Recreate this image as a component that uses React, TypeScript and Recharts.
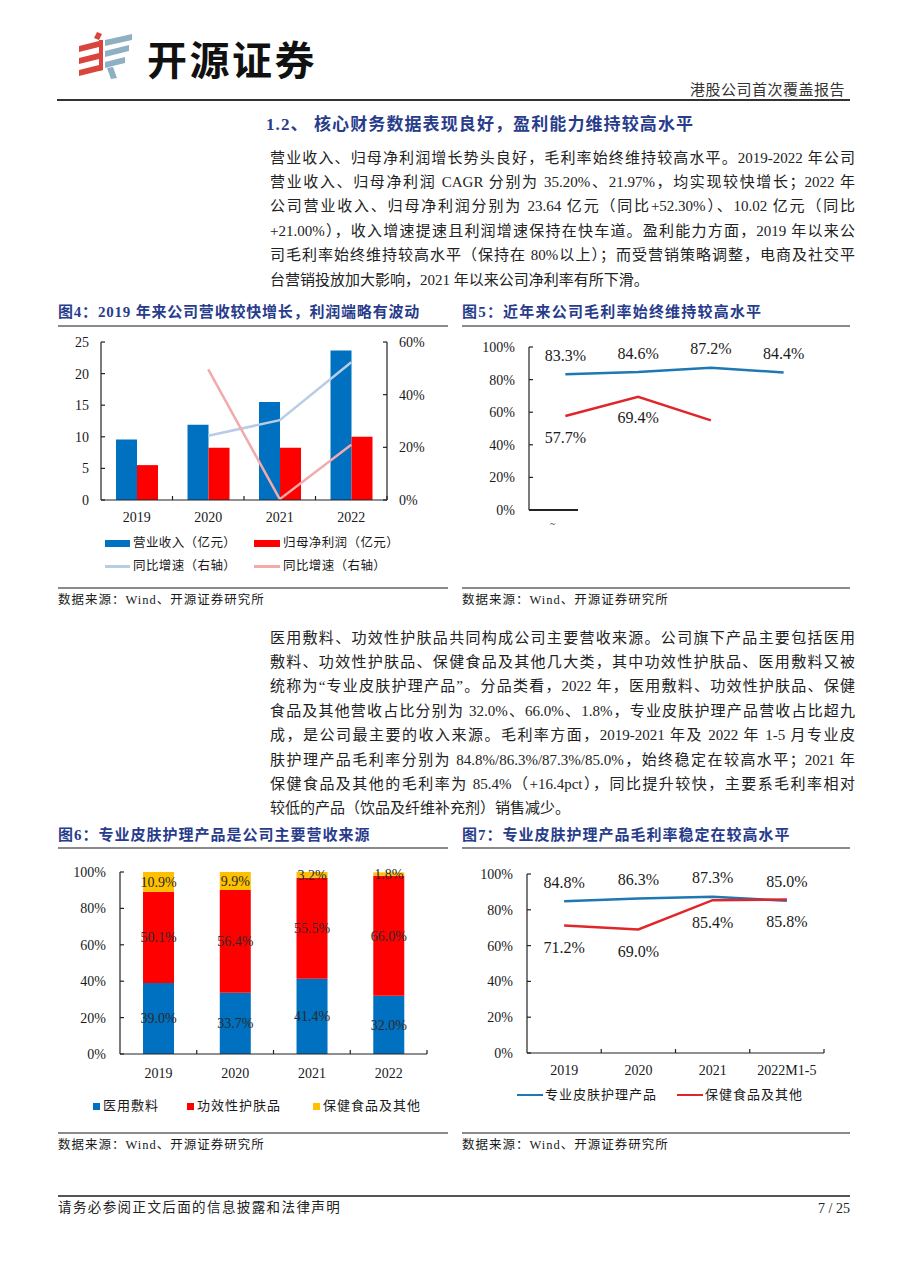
import React from 'react'
import { ComposedChart, BarChart, LineChart, Bar, Line, XAxis, YAxis, LabelList } from 'recharts'

const NAVY = '#283c8c'
const INK = '#1a1a1a'
const AXIS = '#222'
const RULE = '#8a8a8a'
const BAR_BLUE = '#0070c0'
const BAR_RED = '#ff0000'
const BAR_YELLOW = '#ffc000'
const LINE_BLUE = '#1f77b4'
const LINE_RED = '#e0262b'
const PALE_BLUE = '#b8cce4'
const PALE_RED = '#f2aaaa'
const SERIF = '"Liberation Serif", "Noto Sans CJK SC", serif'

// 图4
const YEARS = ['2019', '2020', '2021', '2022']
const REVENUE = [9.57, 11.91, 15.52, 23.64]
const NET_PROFIT = [5.52, 8.26, 8.28, 10.02]
const REVENUE_YOY = [null, 24.4, 30.3, 52.3]
const PROFIT_YOY = [null, 49.6, 0.3, 21.0]
const REV_TICKS = [0, 5, 10, 15, 20, 25]
const YOY_TICKS = [0, 20, 40, 60]

// 图5
const GROSS_MARGIN = [83.3, 84.6, 87.2, 84.4]
const NET_MARGIN = [57.7, 69.4, 55.0, null]
const NET_MARGIN_SHOWN = [true, true, false, false]
const PCT_TICKS = [0, 20, 40, 60, 80, 100]

// 图6
const DRESSING = [39.0, 33.7, 41.4, 32.0]
const SKINCARE = [50.1, 56.4, 55.5, 66.0]
const HEALTH_FOOD = [10.9, 9.9, 3.2, 1.8]

// 图7
const GM_CATS = ['2019', '2020', '2021', '2022M1-5']
const PRO_SKIN_GM = [84.8, 86.3, 87.3, 85.0]
const HEALTH_GM = [71.2, 69.0, 85.4, 85.8]

const pct = (v: number) => `${v.toFixed(1)}%`

const fig4Data = YEARS.map((year, i) => ({
    year, revenue: REVENUE[i], profit: NET_PROFIT[i], revYoy: REVENUE_YOY[i], profitYoy: PROFIT_YOY[i],
}))
const fig5Data = YEARS.map((year, i) => ({
    year,
    gross: GROSS_MARGIN[i],
    grossLabel: pct(GROSS_MARGIN[i]),
    net: NET_MARGIN[i],
    netLabel: NET_MARGIN_SHOWN[i] && NET_MARGIN[i] != null ? pct(NET_MARGIN[i] as number) : '',
}))
const fig6Data = YEARS.map((year, i) => ({
    year, dressing: DRESSING[i], skincare: SKINCARE[i], health: HEALTH_FOOD[i],
}))
const fig7Data = GM_CATS.map((cat, i) => ({
    cat, pro: PRO_SKIN_GM[i], health: HEALTH_GM[i], proLabel: pct(PRO_SKIN_GM[i]), healthLabel: pct(HEALTH_GM[i]),
}))

const LeftTick = (props: any) => {
    const { x, y, payload, gap, fmt } = props
    const ax = x + gap
    return (
        <g>
            <line x1={ax} x2={ax + 4} y1={y} y2={y} stroke={AXIS} strokeWidth={1.2} />
            <text x={x} y={y} dy="0.35em" textAnchor="end" fontSize={14} fill={INK} fontFamily={SERIF}>
                {fmt ? fmt(payload.value) : payload.value}
            </text>
        </g>
    )
}

const RightTick = (props: any) => {
    const { x, y, payload, gap, fmt } = props
    const ax = x - gap
    return (
        <g>
            <line x1={ax - 4} x2={ax} y1={y} y2={y} stroke={AXIS} strokeWidth={1.2} />
            <text x={x} y={y} dy="0.35em" textAnchor="start" fontSize={14} fill={INK} fontFamily={SERIF}>
                {fmt ? fmt(payload.value) : payload.value}
            </text>
        </g>
    )
}

const BottomTick = (props: any) => {
    const { x, y, payload, gap, band } = props
    const ay = y - gap
    return (
        <g>
            <line x1={x + band / 2} x2={x + band / 2} y1={ay} y2={ay - 4} stroke={AXIS} strokeWidth={1.2} />
            <text x={x} y={y} dy="0.71em" textAnchor="middle" fontSize={14} fill={INK} fontFamily={SERIF}>
                {payload.value}
            </text>
        </g>
    )
}

const pointLabel = (dy: number, size = 16) => (p: any) => {
    if (!p.value) return null
    return (
        <text x={p.x} y={p.y + dy} dy="0.35em" textAnchor="middle" fontSize={size} fill={INK} fontFamily={SERIF}>
            {p.value}
        </text>
    )
}

const barLabel = (p: any) => {
    const cx = p.x + p.width / 2
    const cy = p.y + p.height / 2
    return (
        <text x={cx} y={cy} dy="0.35em" textAnchor="middle" fontSize={14} fill="#2a2a2a" fontFamily={SERIF}>
            {pct(p.value)}
        </text>
    )
}

const Txt = ({ x, y, size = 15, color = INK, weight = 400, spacing = 0, right = false, children }: any) => {
    const lh = Math.round(size * 1.5)
    const pos: any = right ? { right: 905 - x } : { left: x }
    return (
        <div style={{
            position: 'absolute', ...pos, top: y - lh / 2, height: lh, lineHeight: `${lh}px`,
            fontSize: size, color, fontWeight: weight, letterSpacing: spacing, whiteSpace: 'nowrap',
        }}>
            {children}
        </div>
    )
}

const Rule = ({ x, y, w, h = 1.5, color = RULE }: any) => (
    <div style={{ position: 'absolute', left: x, top: y - h / 2, width: w, height: h, background: color }} />
)

const Paragraph = ({ lines, top }: { lines: string[], top: number }) => (
    <>
        {lines.map((line, i) => (
            <div key={i} style={{
                position: 'absolute', left: 270, top: top + i * 24.4 - 12, width: 585, height: 24,
                lineHeight: '24px', fontSize: 15, color: '#222', whiteSpace: 'nowrap',
                textAlign: 'justify', textAlignLast: i === lines.length - 1 ? 'left' : 'justify',
            }}>
                {line}
            </div>
        ))}
    </>
)

const PARA_1 = [
    '营业收入、归母净利润增长势头良好，毛利率始终维持较高水平。2019-2022 年公司',
    '营业收入、归母净利润 CAGR 分别为 35.20%、21.97%，均实现较快增长；2022 年',
    '公司营业收入、归母净利润分别为 23.64 亿元（同比+52.30%）、10.02 亿元（同比',
    '+21.00%），收入增速提速且利润增速保持在快车道。盈利能力方面，2019 年以来公',
    '司毛利率始终维持较高水平（保持在 80%以上）；而受营销策略调整，电商及社交平',
    '台营销投放加大影响，2021 年以来公司净利率有所下滑。',
]

const PARA_2 = [
    '医用敷料、功效性护肤品共同构成公司主要营收来源。公司旗下产品主要包括医用',
    '敷料、功效性护肤品、保健食品及其他几大类，其中功效性护肤品、医用敷料又被',
    '统称为“专业皮肤护理产品”。分品类看，2022 年，医用敷料、功效性护肤品、保健',
    '食品及其他营收占比分别为 32.0%、66.0%、1.8%，专业皮肤护理产品营收占比超九',
    '成，是公司最主要的收入来源。毛利率方面，2019-2021 年及 2022 年 1-5 月专业皮',
    '肤护理产品毛利率分别为 84.8%/86.3%/87.3%/85.0%，始终稳定在较高水平；2021 年',
    '保健食品及其他的毛利率为 85.4%（+16.4pct），同比提升较快，主要系毛利率相对',
    '较低的产品（饮品及纤维补充剂）销售减少。',
]

const Logo = () => (
    <svg width={56} height={48} style={{ position: 'absolute', left: 77, top: 32 }}>
        <polygon points="20,0 25,2 22,8 17,6" fill="#d9453c" />
        <polygon points="2,14 26,8 26,14 2,20" fill="#d9453c" />
        <polygon points="2,26 26,20 26,26 2,32" fill="#d9453c" />
        <polygon points="2,38 26,32 26,38 2,44" fill="#d9453c" />
        <polygon points="22,8 26,8 26,38 22,39" fill="#d9453c" />
        <polygon points="28,8 55,2 55,8 28,14" fill="#8fb0c2" />
        <polygon points="28,19 52,13 52,19 28,25" fill="#8fb0c2" />
        <polygon points="28,30 48,25 48,31 28,36" fill="#8fb0c2" />
        <polygon points="30,36 36,35 40,46 34,47" fill="#8fb0c2" />
    </svg>
)

const FIG4_PLOT_W = 286
const FIG6_PLOT_W = 307
const FIG7_PLOT_W = 297

const App = () => {
    return (
        <div style={{
            position: 'absolute', left: 0, top: 0, width: 905, height: 1280, background: '#fff',
            overflow: 'hidden', fontFamily: SERIF,
        }}>
            {/* header */}
            <Logo />
            <Txt x={147} y={58} size={40} weight={700} spacing={2.5} color="#111">
                <span style={{ fontFamily: '"Noto Sans CJK SC", sans-serif' }}>开源证券</span>
            </Txt>
            <Txt x={845} y={90} size={15} spacing={0.5} right color="#333">港股公司首次覆盖报告</Txt>
            <Rule x={57} y={100} w={793} h={1.5} color="#333" />

            <Txt x={266} y={125} size={17} weight={700} spacing={1.1} color={NAVY}>
                1.2、 核心财务数据表现良好，盈利能力维持较高水平
            </Txt>
            <Paragraph lines={PARA_1} top={157.5} />

            {/* 图4 */}
            <Txt x={58} y={312} size={15} weight={700} spacing={0.8} color={NAVY}>
                图4：2019 年来公司营收较快增长，利润端略有波动
            </Txt>
            <Rule x={58} y={326} w={390} />
            <div style={{ position: 'absolute', left: 58, top: 330 }}>
                <ComposedChart width={390} height={200} data={fig4Data} margin={{ top: 12, right: 0, bottom: 0, left: 0 }}
                    barCategoryGap="21%" barGap={0}>
                    <XAxis dataKey="year" height={30} interval={0} axisLine={{ stroke: AXIS, strokeWidth: 1.2 }}
                        tickLine={false} tickSize={0} tickMargin={12}
                        tick={(p: any) => <BottomTick {...p} gap={12} band={FIG4_PLOT_W / YEARS.length} />} />
                    <YAxis yAxisId="l" width={43} domain={[0, 25]} ticks={REV_TICKS} interval={0}
                        axisLine={{ stroke: AXIS, strokeWidth: 1.2 }} tickLine={false} tickSize={0} tickMargin={12}
                        tick={(p: any) => <LeftTick {...p} gap={12} />} />
                    <YAxis yAxisId="r" orientation="right" width={61} domain={[0, 60]} ticks={YOY_TICKS} interval={0}
                        axisLine={{ stroke: AXIS, strokeWidth: 1.2 }} tickLine={false} tickSize={0} tickMargin={12}
                        tick={(p: any) => <RightTick {...p} gap={12} fmt={(v: number) => `${v}%`} />} />
                    <Bar yAxisId="l" dataKey="revenue" fill={BAR_BLUE} isAnimationActive={false} />
                    <Bar yAxisId="l" dataKey="profit" fill={BAR_RED} isAnimationActive={false} />
                    <Line yAxisId="r" dataKey="revYoy" type="linear" stroke={PALE_BLUE} strokeWidth={2.5} dot={false}
                        activeDot={false} isAnimationActive={false} />
                    <Line yAxisId="r" dataKey="profitYoy" type="linear" stroke={PALE_RED} strokeWidth={2.5} dot={false}
                        activeDot={false} isAnimationActive={false} />
                </ComposedChart>
            </div>
            <div style={{ position: 'absolute', left: 105, top: 540, width: 25, height: 7, background: BAR_BLUE }} />
            <Txt x={133} y={543} size={12.5} spacing={0.4}>营业收入（亿元）</Txt>
            <div style={{ position: 'absolute', left: 254, top: 540, width: 26, height: 7, background: BAR_RED }} />
            <Txt x={283} y={543} size={12.5} spacing={0.4}>归母净利润（亿元）</Txt>
            <div style={{ position: 'absolute', left: 105, top: 565, width: 25, height: 2.5, background: PALE_BLUE }} />
            <Txt x={133} y={566} size={12.5} spacing={0.4}>同比增速（右轴）</Txt>
            <div style={{ position: 'absolute', left: 254, top: 565, width: 26, height: 2.5, background: PALE_RED }} />
            <Txt x={283} y={566} size={12.5} spacing={0.4}>同比增速（右轴）</Txt>
            <Rule x={58} y={588} w={390} />
            <Txt x={58} y={600} size={12.5} spacing={1}>数据来源：Wind、开源证券研究所</Txt>

            {/* 图5 */}
            <Txt x={462} y={312} size={15} weight={700} spacing={1.2} color={NAVY}>
                图5：近年来公司毛利率始终维持较高水平
            </Txt>
            <Rule x={462} y={326} w={388} />
            <div style={{ position: 'absolute', left: 462, top: 335 }}>
                <LineChart width={388} height={190} data={fig5Data} margin={{ top: 12, right: 30, bottom: 15, left: 0 }}>
                    <XAxis dataKey="year" hide scale="band" />
                    <YAxis width={67} domain={[0, 100]} ticks={PCT_TICKS} interval={0}
                        axisLine={{ stroke: AXIS, strokeWidth: 1.2 }} tickLine={false} tickSize={0} tickMargin={14}
                        tick={(p: any) => <LeftTick {...p} gap={14} fmt={(v: number) => `${v}%`} />} />
                    <Line dataKey="gross" type="linear" stroke={LINE_BLUE} strokeWidth={2.5} dot={false}
                        activeDot={false} isAnimationActive={false}>
                        <LabelList dataKey="grossLabel" content={pointLabel(-19)} />
                    </Line>
                    <Line dataKey="net" type="linear" stroke={LINE_RED} strokeWidth={2.5} dot={false}
                        activeDot={false} isAnimationActive={false}>
                        <LabelList dataKey="netLabel" content={pointLabel(21)} />
                    </Line>
                </LineChart>
            </div>
            <div style={{ position: 'absolute', left: 529, top: 509.4, width: 49, height: 1.3, background: AXIS }} />
            <Txt x={550} y={523} size={10}>~</Txt>
            <Rule x={462} y={588} w={388} />
            <Txt x={462} y={600} size={12.5} spacing={1}>数据来源：Wind、开源证券研究所</Txt>

            <Paragraph lines={PARA_2} top={637.5} />

            {/* 图6 */}
            <Txt x={58} y={835} size={15} weight={700} spacing={1} color={NAVY}>
                图6：专业皮肤护理产品是公司主要营收来源
            </Txt>
            <Rule x={58} y={848} w={390} />
            <div style={{ position: 'absolute', left: 58, top: 860 }}>
                <BarChart width={390} height={224} data={fig6Data} margin={{ top: 12, right: 21, bottom: 0, left: 0 }}
                    barCategoryGap="30%">
                    <XAxis dataKey="year" height={30} interval={0} axisLine={{ stroke: AXIS, strokeWidth: 1.2 }}
                        tickLine={false} tickSize={0} tickMargin={14}
                        tick={(p: any) => <BottomTick {...p} gap={14} band={FIG6_PLOT_W / YEARS.length} />} />
                    <YAxis width={62} domain={[0, 100]} ticks={PCT_TICKS} interval={0} allowDataOverflow
                        axisLine={{ stroke: AXIS, strokeWidth: 1.2 }} tickLine={false} tickSize={0} tickMargin={14}
                        tick={(p: any) => <LeftTick {...p} gap={14} fmt={(v: number) => `${v}%`} />} />
                    <Bar dataKey="dressing" stackId="mix" fill={BAR_BLUE} isAnimationActive={false}>
                        <LabelList dataKey="dressing" content={barLabel} />
                    </Bar>
                    <Bar dataKey="skincare" stackId="mix" fill={BAR_RED} isAnimationActive={false}>
                        <LabelList dataKey="skincare" content={barLabel} />
                    </Bar>
                    <Bar dataKey="health" stackId="mix" fill={BAR_YELLOW} isAnimationActive={false}>
                        <LabelList dataKey="health" content={barLabel} />
                    </Bar>
                </BarChart>
            </div>
            <div style={{ position: 'absolute', left: 93, top: 1102.5, width: 7, height: 7, background: BAR_BLUE }} />
            <Txt x={103} y={1106} size={13} spacing={1}>医用敷料</Txt>
            <div style={{ position: 'absolute', left: 187, top: 1102.5, width: 7, height: 7, background: BAR_RED }} />
            <Txt x={197} y={1106} size={13} spacing={1}>功效性护肤品</Txt>
            <div style={{ position: 'absolute', left: 313, top: 1102.5, width: 7, height: 7, background: BAR_YELLOW }} />
            <Txt x={323} y={1106} size={13} spacing={1}>保健食品及其他</Txt>
            <Rule x={58} y={1133} w={390} />
            <Txt x={58} y={1145} size={12.5} spacing={1}>数据来源：Wind、开源证券研究所</Txt>

            {/* 图7 */}
            <Txt x={462} y={835} size={15} weight={700} spacing={1} color={NAVY}>
                图7：专业皮肤护理产品毛利率稳定在较高水平
            </Txt>
            <Rule x={462} y={848} w={388} />
            <div style={{ position: 'absolute', left: 462, top: 862 }}>
                <LineChart width={388} height={221} data={fig7Data} margin={{ top: 12, right: 26, bottom: 0, left: 0 }}>
                    <XAxis dataKey="cat" height={30} interval={0} scale="band" axisLine={{ stroke: AXIS, strokeWidth: 1.2 }}
                        tickLine={false} tickSize={0} tickMargin={12}
                        tick={(p: any) => <BottomTick {...p} gap={12} band={FIG7_PLOT_W / GM_CATS.length} />} />
                    <YAxis width={65} domain={[0, 100]} ticks={PCT_TICKS} interval={0}
                        axisLine={{ stroke: AXIS, strokeWidth: 1.2 }} tickLine={false} tickSize={0} tickMargin={14}
                        tick={(p: any) => <LeftTick {...p} gap={14} fmt={(v: number) => `${v}%`} />} />
                    <Line dataKey="pro" type="linear" stroke={LINE_BLUE} strokeWidth={2.5} dot={false}
                        activeDot={false} isAnimationActive={false}>
                        <LabelList dataKey="proLabel" content={pointLabel(-19)} />
                    </Line>
                    <Line dataKey="health" type="linear" stroke={LINE_RED} strokeWidth={2.5} dot={false}
                        activeDot={false} isAnimationActive={false}>
                        <LabelList dataKey="healthLabel" content={pointLabel(22)} />
                    </Line>
                </LineChart>
            </div>
            <div style={{ position: 'absolute', left: 517, top: 1093.8, width: 26, height: 2.5, background: LINE_BLUE }} />
            <Txt x={545} y={1095} size={13} spacing={1}>专业皮肤护理产品</Txt>
            <div style={{ position: 'absolute', left: 677, top: 1093.8, width: 26, height: 2.5, background: LINE_RED }} />
            <Txt x={705} y={1095} size={13} spacing={1}>保健食品及其他</Txt>
            <Rule x={462} y={1133} w={388} />
            <Txt x={462} y={1145} size={12.5} spacing={1}>数据来源：Wind、开源证券研究所</Txt>

            {/* footer */}
            <Rule x={58} y={1196} w={792} h={2} color="#555" />
            <Txt x={58} y={1208} size={13.5} spacing={1.4} color="#222">请务必参阅正文后面的信息披露和法律声明</Txt>
            <Txt x={850} y={1208} size={14} right color="#222">7 / 25</Txt>
        </div>
    )
}

export default App
